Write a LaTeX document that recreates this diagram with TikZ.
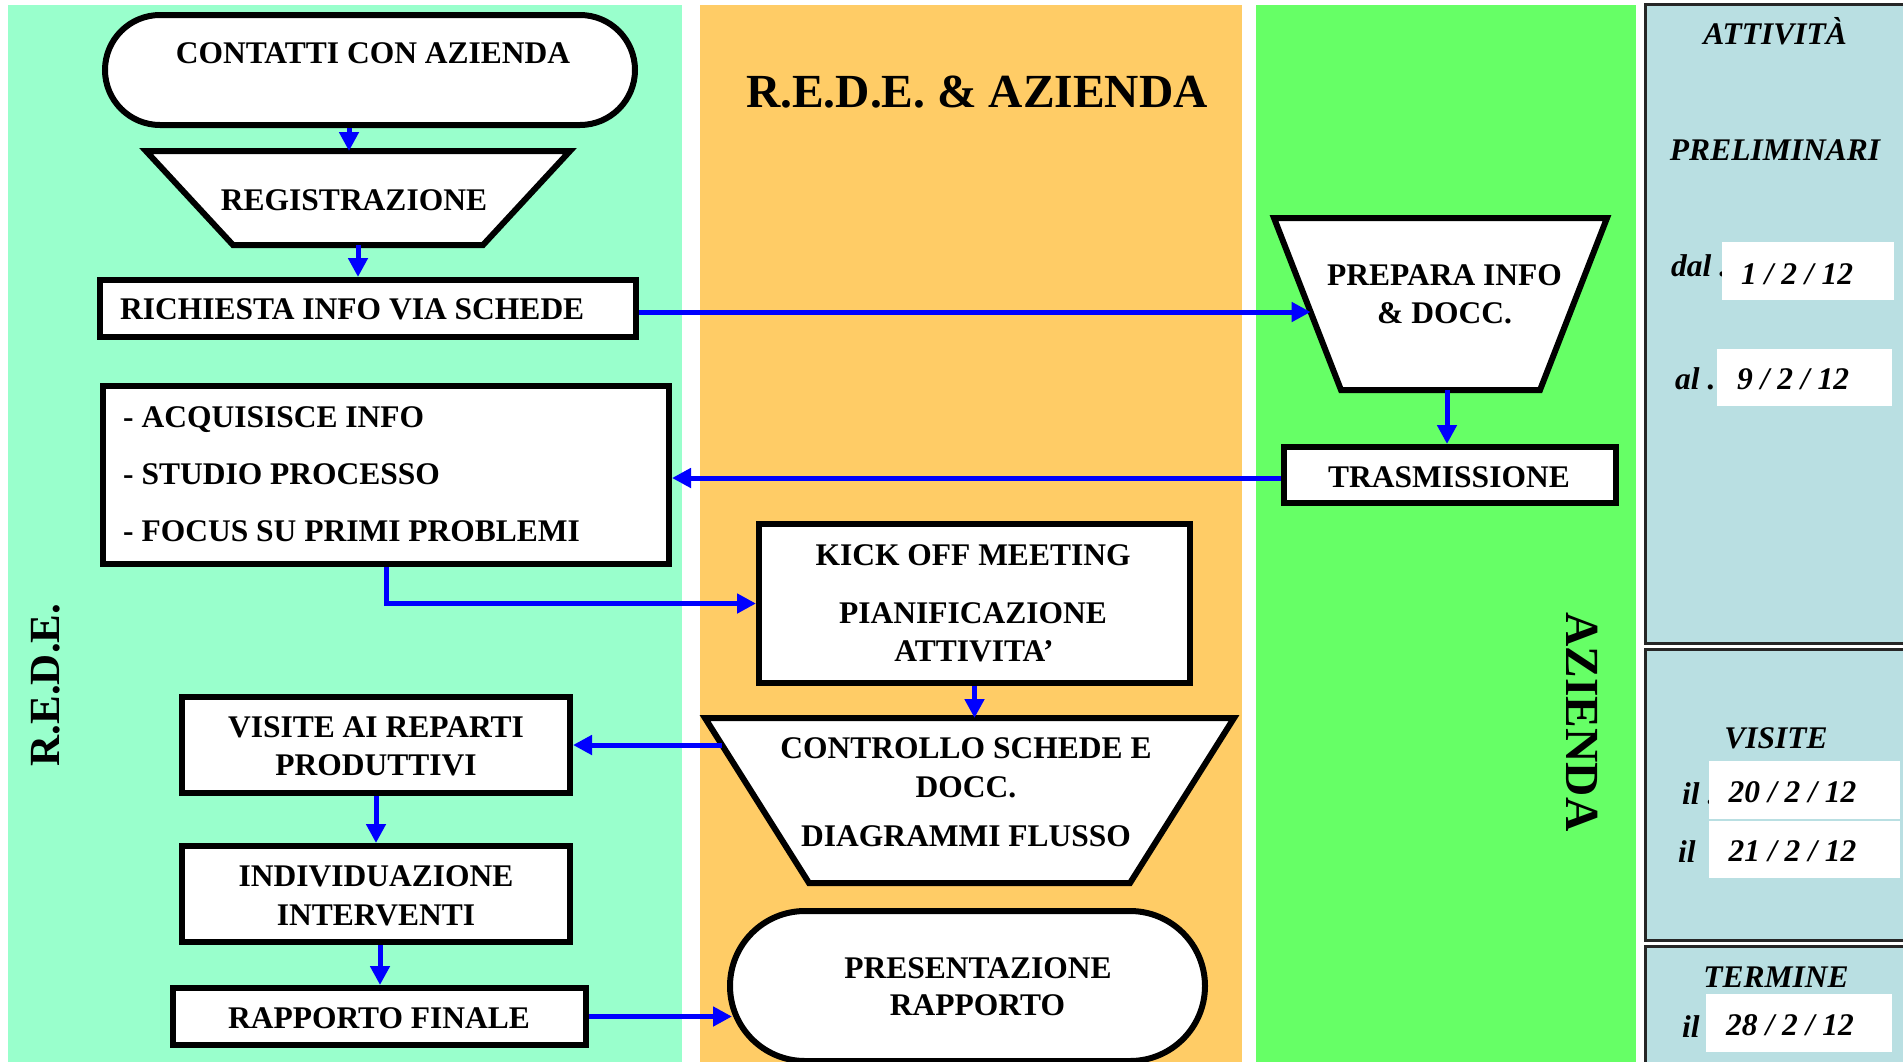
\documentclass[tikz,border=0pt]{standalone}
\usepackage{fontspec}
\setmainfont{Liberation Serif}
\usetikzlibrary{shapes.misc,arrows.meta,calc}
\pgfdeclarelayer{bg}
\pgfdeclarelayer{shp}
\pgfsetlayers{bg,shp,main}
\definecolor{mintlane}{HTML}{99FFCC}
\definecolor{orangelane}{HTML}{FFCC66}
\definecolor{greenlane}{HTML}{66FF66}
\definecolor{panelc}{HTML}{B9DFE2}
\definecolor{arrowblue}{HTML}{0000FF}
\begin{document}
\begin{tikzpicture}[x=1pt,y=-1pt,
  box/.style={rectangle,draw=black,fill=white,line width=6pt,inner sep=0pt},
  stad/.style={rounded rectangle,draw=black,fill=white,line width=6pt,inner sep=0pt},
  trapbox/.style={rectangle,draw=none,inner sep=0pt,outer sep=0pt},
  trapline/.style={draw=black,fill=white,line width=6pt,line join=miter},
  txt/.style={font=\fontsize{31.5}{38}\selectfont\bfseries,anchor=base,inner sep=0pt},
  ptxt/.style={font=\fontsize{31.5}{38}\selectfont\bfseries\itshape,anchor=base,inner sep=0pt},
  lanetxt/.style={font=\fontsize{47.5}{57}\selectfont\bfseries,inner sep=0pt},
  arr/.style={draw=arrowblue,line width=5pt,-{Triangle[length=19pt,width=19pt]}},
  panel/.style={fill=panelc,draw=black!85,line width=3pt},
  datebox/.style={rectangle,fill=white,draw=none,inner sep=0pt,outer sep=0pt}]

\useasboundingbox (0,0) rectangle (1903,1061);

% ---------- lanes and panels ----------
\begin{pgfonlayer}{bg}
  \fill[white] (0,0) rectangle (1903,1061);
  \fill[mintlane] (8,5) rectangle (682,1075);
  \fill[orangelane] (700,5) rectangle (1242,1075);
  \fill[greenlane] (1256,5) rectangle (1636,1075);
  \draw[panel] (1645,4) rectangle (1920,643);
  \draw[panel] (1645,649) rectangle (1920,940);
  \draw[panel] (1645,946) rectangle (1920,1080);
\end{pgfonlayer}

% ---------- lane titles ----------
\node[lanetxt,anchor=base] (t-lane-mid) at (977,107) {R.E.D.E. \& AZIENDA};
\node[lanetxt,font=\fontsize{43}{50}\selectfont\bfseries,rotate=90] (t-lane-rede) at (46,685) {R.E.D.E.};
\node[lanetxt,rotate=-90] (t-lane-az) at (1582,722) {AZIENDA};

% ---------- shapes ----------
\node[stad,minimum width=530pt,minimum height=110pt] (contatti) at (370,70) {};
\node[trapbox,minimum width=424pt,minimum height=94pt] (reg) at (358,198) {};
\node[box,minimum width=536pt,minimum height=57pt] (richiesta) at (368,308.5) {};
\node[trapbox,minimum width=333pt,minimum height=172pt] (prepara) at (1440.5,304) {};
\node[box,minimum width=332pt,minimum height=56pt] (trasm) at (1450,475) {};
\node[box,minimum width=566pt,minimum height=178pt] (acq) at (386,475) {};
\node[box,minimum width=431pt,minimum height=159pt] (kick) at (974.5,603.5) {};
\node[trapbox,minimum width=529pt,minimum height=165pt] (ctrl) at (969.5,800.5) {};
\node[box,minimum width=388pt,minimum height=96pt] (visite) at (376,745) {};
\node[box,minimum width=388pt,minimum height=96pt] (indiv) at (376,894) {};
\node[box,minimum width=413pt,minimum height=57pt] (rapporto) at (379.5,1016.5) {};
\node[stad,minimum width=475pt,minimum height=150pt] (present) at (967.5,986) {};

\coordinate (reg-bl) at ($(reg.south west)+(87,0)$);
\coordinate (reg-br) at ($(reg.south east)+(-87,0)$);
\coordinate (prepara-bl) at ($(prepara.south west)+(67,0)$);
\coordinate (prepara-br) at ($(prepara.south east)+(-67,0)$);
\coordinate (ctrl-bl) at ($(ctrl.south west)+(104,0)$);
\coordinate (ctrl-br) at ($(ctrl.south east)+(-104,0)$);

\begin{pgfonlayer}{shp}
  \draw[trapline] (reg.north west) -- (reg.north east) -- (reg-br) -- (reg-bl) -- cycle;
  \draw[trapline] (prepara.north west) -- (prepara.north east) -- (prepara-br) -- (prepara-bl) -- cycle;
  \draw[trapline] (ctrl.north west) -- (ctrl.north east) -- (ctrl-br) -- (ctrl-bl) -- cycle;
\end{pgfonlayer}

% ---------- texts in shapes ----------
\node[txt] (t-contatti) at (373,63) {CONTATTI CON AZIENDA};
\node[txt] (t-reg) at (354,210) {REGISTRAZIONE};
\node[txt,anchor=base west] (t-rich) at (120,319) {RICHIESTA INFO VIA SCHEDE};
\node[txt] (t-prep1) at (1444.5,285) {PREPARA INFO};
\node[txt] (t-prep2) at (1444.5,323) {\& DOCC.};
\node[txt] (t-trasm) at (1449,487) {TRASMISSIONE};
\node[txt,anchor=base west] (t-acq1) at (123,427) {- ACQUISISCE INFO};
\node[txt,anchor=base west] (t-acq2) at (123,484) {- STUDIO PROCESSO};
\node[txt,anchor=base west] (t-acq3) at (123,541) {- FOCUS SU PRIMI PROBLEMI};
\node[txt] (t-kick1) at (973,565) {KICK OFF MEETING};
\node[txt] (t-kick2) at (973,623) {PIANIFICAZIONE};
\node[txt] (t-kick3) at (974,661) {ATTIVITA’};
\node[txt] (t-ctrl1) at (966,758) {CONTROLLO SCHEDE E};
\node[txt] (t-ctrl2) at (966,797) {DOCC.};
\node[txt] (t-ctrl3) at (966,846) {DIAGRAMMI FLUSSO};
\node[txt] (t-vis1) at (376,737) {VISITE AI REPARTI};
\node[txt] (t-vis2) at (376,775) {PRODUTTIVI};
\node[txt] (t-ind1) at (376,886) {INDIVIDUAZIONE};
\node[txt] (t-ind2) at (376,925) {INTERVENTI};
\node[txt] (t-rap) at (379,1028) {RAPPORTO FINALE};
\node[txt] (t-pres1) at (978,978) {PRESENTAZIONE};
\node[txt] (t-pres2) at (977.5,1015) {RAPPORTO};

% ---------- connectors ----------
\coordinate (c-a) at ([xshift=-21pt]contatti.south);
\draw[arr] (c-a) -- (c-a |- reg.north);
\draw[arr] (reg.south) -- (reg.south |- richiesta.north);
\coordinate (c-rp) at ([yshift=-3.5pt]richiesta.east);
\coordinate (c-pl) at ($(prepara.north west)!0.5465!(prepara-bl)$);
\draw[arr] (c-rp) -- (c-rp -| c-pl);
\coordinate (c-ps) at ([xshift=6.5pt]prepara.south);
\draw[arr] (c-ps) -- (c-ps |- trasm.north);
\coordinate (c-tw) at ([yshift=-3pt]trasm.west);
\draw[arr] (c-tw) -- (c-tw -| acq.east);
\draw[arr] (acq.south) |- (kick.west);
\draw[arr] (kick.south) -- (kick.south |- ctrl.north);
\coordinate (c-cl) at ($(ctrl.north west)!0.1636!(ctrl-bl)$);
\draw[arr] (c-cl) -- (c-cl -| visite.east);
\draw[arr] (visite.south) -- (visite.south |- indiv.north);
\coordinate (c-is) at ([xshift=4pt]indiv.south);
\draw[arr] (c-is) -- (c-is |- rapporto.north);
\coordinate (c-pw) at ([xshift=5pt]present.west);
\draw[arr] (rapporto.east) -- (rapporto.east -| c-pw);

% ---------- right panels ----------
\node[ptxt] (p-att) at (1775,44) {ATTIVITÀ};
\node[ptxt] (p-pre) at (1775,160) {PRELIMINARI};
\node[ptxt,anchor=base west] (p-dal) at (1671,276) {dal .};
\node[datebox,minimum width=172pt,minimum height=58pt] (d1) at (1808,271) {};
\node[ptxt] (p-d1) at (1797,284) {1 / 2 / 12};
\node[ptxt,anchor=base west] (p-al) at (1675,389) {al .};
\node[datebox,minimum width=175pt,minimum height=57pt] (d2) at (1804.5,377.5) {};
\node[ptxt] (p-d2) at (1793,389) {9 / 2 / 12};

\node[ptxt] (p-vis) at (1776,748) {VISITE};
\node[ptxt,anchor=base west] (p-il1) at (1682,804) {il .};
\node[datebox,minimum width=191pt,minimum height=58pt] (d3) at (1804.5,790) {};
\node[ptxt] (p-d3) at (1792.5,802) {20 / 2 / 12};
\node[ptxt,anchor=base west] (p-il2) at (1678,862) {il};
\node[datebox,minimum width=191pt,minimum height=57pt] (d4) at (1804.5,849.5) {};
\node[ptxt] (p-d4) at (1792.5,861) {21 / 2 / 12};

\node[ptxt] (p-ter) at (1776,987) {TERMINE};
\node[ptxt,anchor=base west] (p-il3) at (1682,1037) {il};
\node[datebox,minimum width=186pt,minimum height=58pt] (d5) at (1799,1023) {};
\node[ptxt] (p-d5) at (1790,1035) {28 / 2 / 12};
\end{tikzpicture}
\end{document}
